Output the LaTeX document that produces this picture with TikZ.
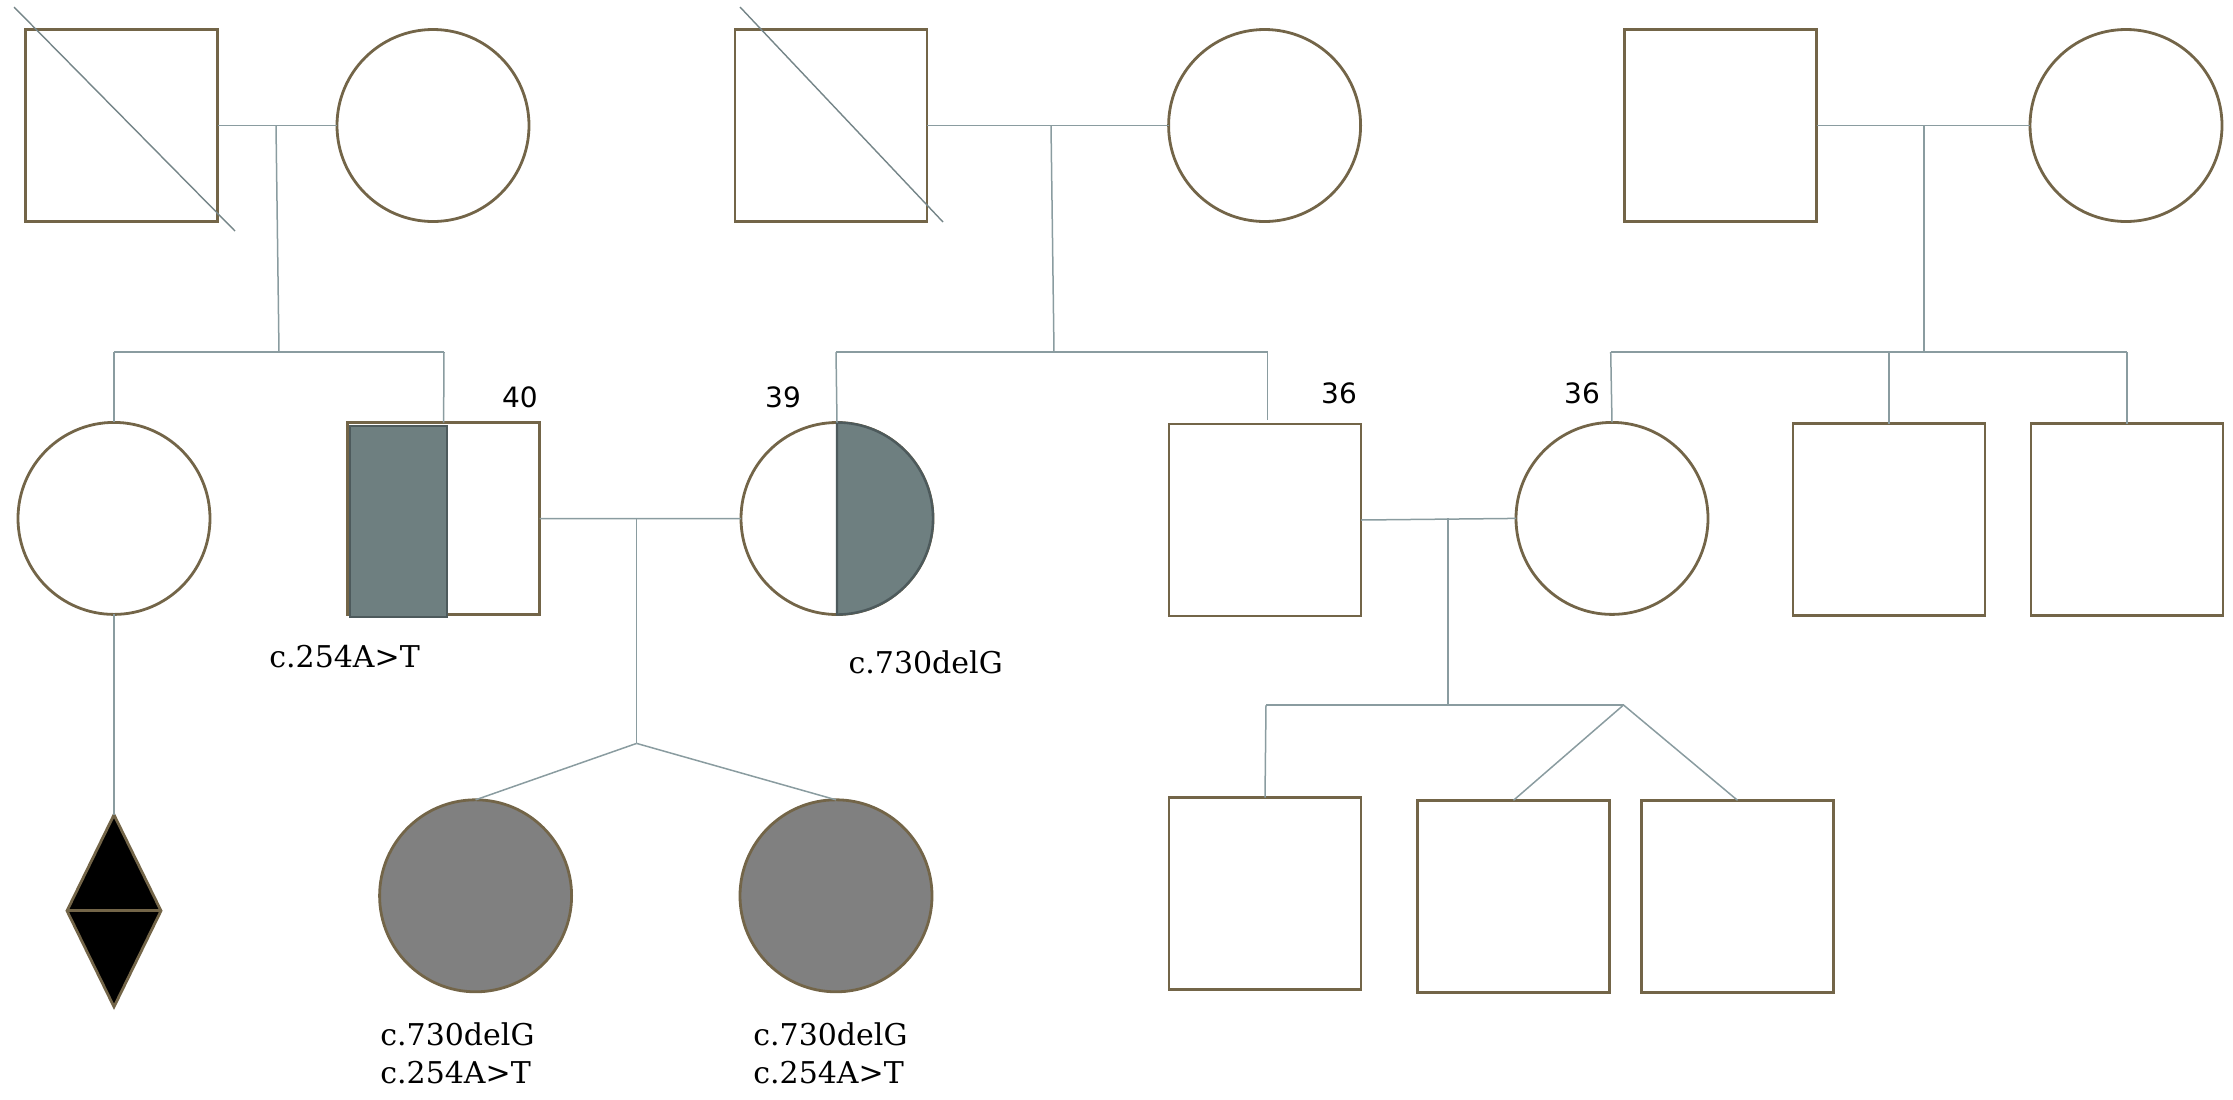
\documentclass[tikz,border=0pt]{standalone}
\usepackage{fontspec}
\setmainfont{DejaVu Serif}
\newfontfamily\agefont{DejaVu Sans}
\usetikzlibrary{shapes.geometric}
\definecolor{symedge}{HTML}{736548}
\definecolor{link}{HTML}{8A9CA0}
\definecolor{carrier}{HTML}{6E7F80}
\definecolor{carrieredge}{HTML}{4D5A5C}
\definecolor{affected}{HTML}{808080}
\tikzset{
  x=0.5pt, y=-0.5pt,
  male/.style={draw=symedge, line width=1.4pt, fill=white, minimum size=96pt, inner sep=0pt, outer sep=0pt},
  female/.style={circle, draw=symedge, line width=1.4pt, fill=white, minimum size=96pt, inner sep=0pt, outer sep=0pt},
  unknownsex/.style={diamond, draw=symedge, line width=1.4pt, fill=black, minimum width=47pt, minimum height=96pt, inner sep=0pt, outer sep=0pt},
  rel/.style={draw=link, line width=0.75pt},
  deceased/.style={draw=link!85!black, line width=0.7pt},
  age/.style={font=\agefont\fontsize{14}{16}\selectfont, inner sep=0pt},
  variant/.style={font=\fontsize{15}{19}\selectfont, inner sep=0pt, align=left}
}
\begin{document}
\begin{tikzpicture}
\useasboundingbox (0,0) rectangle (2233,1099);

% ---------------- generation I ----------------
\node[male]   (m1) at (121.8,125.5) {};
\node[female] (f1) at (433,125.5) {};
\node[male]   (m2) at (831,125.5) {};
\node[female] (f2) at (1264.6,125.5) {};
\node[male]   (m3) at (1720.5,125.5) {};
\node[female] (f3) at (2126,125.5) {};

% deceased marks
\coordinate (d1a) at (14,7);   \coordinate (d1b) at (235,231);
\coordinate (d2a) at (740,7);  \coordinate (d2b) at (943,222);
\draw[deceased] (d1a) -- (d1b);
\draw[deceased] (d2a) -- (d2b);

% ---------------- generation II ----------------
\node[female] (g1) at (114,518.4) {};
\node[male]   (g2) at (443.6,518.7) {};
\node[female] (g3) at (837,518.5) {};
\node[male]   (g4) at (1265,520) {};
\node[female] (g5) at (1612,518.4) {};
\node[male]   (g6) at (1889,519.5) {};
\node[male]   (g7) at (2127,519.5) {};

% heterozygous carriers
\draw[fill=carrier, draw=carrieredge, line width=1.2pt] (350,425.7) rectangle (447,616.7);
\draw[fill=carrier, draw=carrieredge, line width=1.2pt]
  (g3.north) arc[start angle=90, end angle=-90, radius=48pt] -- cycle;

% ---------------- generation III ----------------
\node[unknownsex] (u1) at (114,910.8) {};
\draw[symedge, line width=1.4pt] (u1.west) -- (u1.east);
\node[female, fill=affected] (h1) at (475.6,895.8) {};
\node[female, fill=affected] (h2) at (836,895.8) {};
\node[male] (k1) at (1265,893.6) {};
\node[male] (k2) at (1513.5,896.3) {};
\node[male] (k3) at (1737.5,896.3) {};

% ---------------- family 1 ----------------
\coordinate (p1) at (276,125.5);
\coordinate (s1) at (279,352);
\coordinate (s1l) at (114,352);
\coordinate (s1r) at (444,352);
\draw[rel] (m1.east) -- (f1.west);
\draw[rel] (p1) -- (s1);
\draw[rel] (s1l) -- (s1r);
\draw[rel] (s1l) -- (g1.north);
\draw[rel] (s1r) -- (g2.north);

% ---------------- family 2 ----------------
\coordinate (p2) at (1051,125.5);
\coordinate (s2) at (1054,352);
\coordinate (s2l) at (836,352);
\coordinate (s2r) at (1267.5,352);
\coordinate (g4top) at (1267.5,420);
\draw[rel] (m2.east) -- (f2.west);
\draw[rel] (p2) -- (s2);
\draw[rel] (s2l) -- (s2r);
\draw[rel] (s2l) -- (g3.north);
\draw[rel] (s2r) -- (g4top);

% ---------------- family 3 ----------------
\coordinate (p3) at (1924,125.5);
\coordinate (s3) at (1924,352);
\coordinate (s3l) at (1610.7,352);
\coordinate (s3m) at (1889,352);
\coordinate (s3r) at (2127,352);
\draw[rel] (m3.east) -- (f3.west);
\draw[rel] (p3) -- (s3);
\draw[rel] (s3l) -- (s3r);
\draw[rel] (s3l) -- (g5.north);
\draw[rel] (s3m) -- (g6.north);
\draw[rel] (s3r) -- (g7.north);

% ---------------- family 4 ----------------
\coordinate (p4) at (636.6,518.5);
\coordinate (s4) at (636.6,743.4);
\draw[rel] (g2.east) -- (g3.west);
\draw[rel] (p4) -- (s4);
\draw[rel] (s4) -- (h1.north);
\draw[rel] (s4) -- (h2.north);
\draw[rel] (g1.south) -- (u1.north);

% ---------------- family 5 ----------------
\coordinate (p5) at (1448,518);
\coordinate (s5) at (1448,705);
\coordinate (s5l) at (1266,705);
\coordinate (s5r) at (1623.5,705);
\draw[rel] (g4.east) -- (g5.west);
\draw[rel] (p5) -- (s5);
\draw[rel] (s5l) -- (s5r);
\draw[rel] (s5l) -- (k1.north);
\draw[rel] (s5r) -- (k2.north);
\draw[rel] (s5r) -- (k3.north);

% ---------------- ages ----------------
\node[age] (a40) at (520,397) {40};
\node[age] (a39) at (783,397) {39};
\node[age] (a36a) at (1339,393) {36};
\node[age] (a36b) at (1582,393) {36};

% ---------------- variants ----------------
\node[variant] (v1) at (344.6,656.5) {c.254A>T};
\node[variant] (v2) at (925.7,662) {c.730delG};
\node[variant, anchor=north west] (v3) at (380,1022) {c.730delG\\c.254A>T};
\node[variant, anchor=north west] (v4) at (753,1022) {c.730delG\\c.254A>T};
\end{tikzpicture}
\end{document}
